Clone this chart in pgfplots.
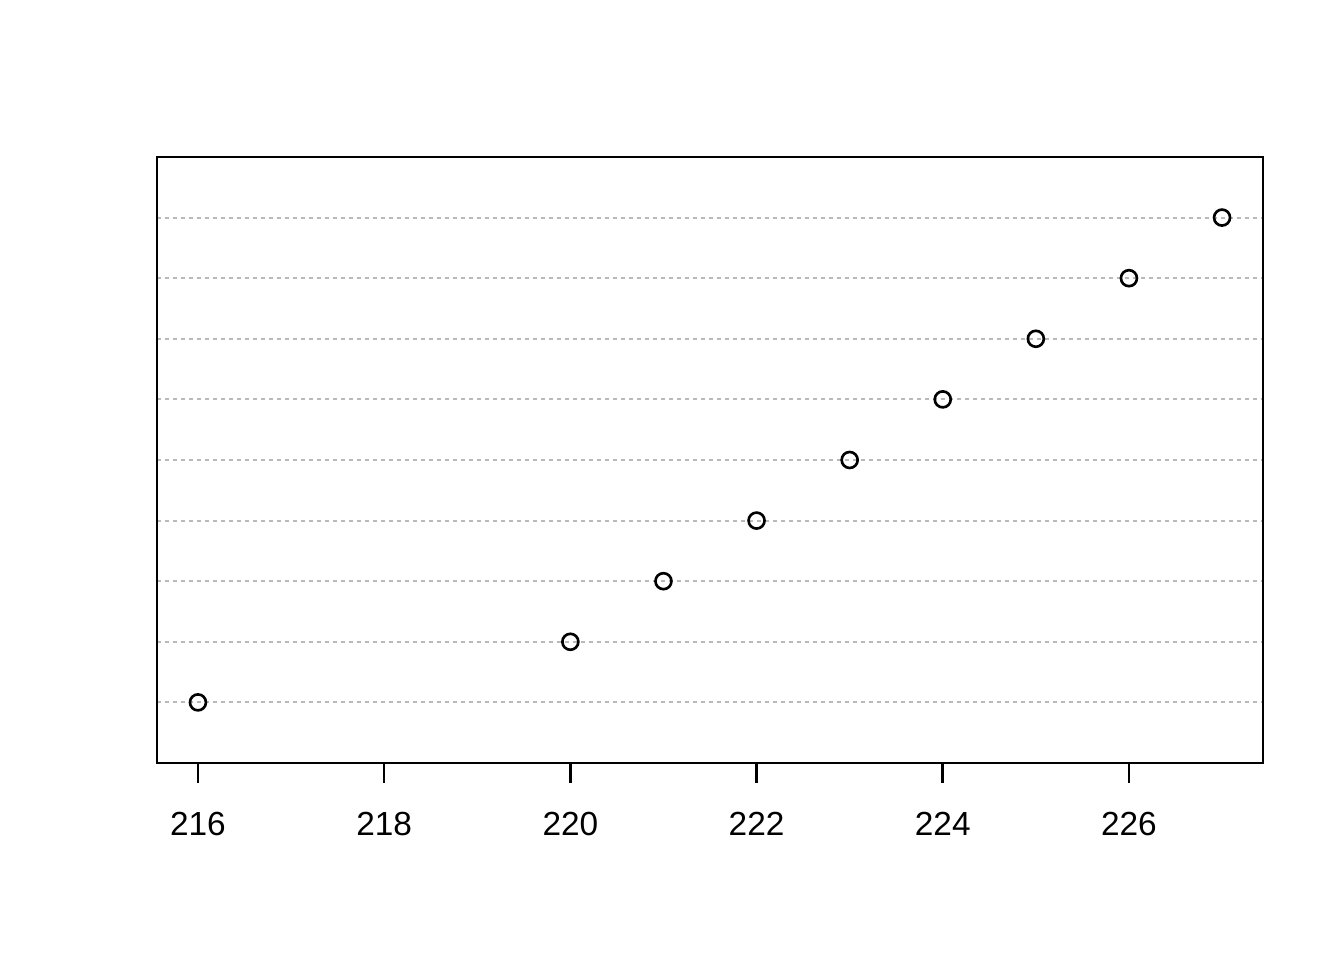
\documentclass[border=0pt]{standalone}
\usepackage{fontspec}
\setmainfont{Liberation Sans}
\usepackage{pgfplots}
\pgfplotsset{compat=1.18}

\begin{document}
\begin{tikzpicture}[x=1mm,y=1mm]
% page frame, 1344x960 at 0.1mm per pixel
\path (0,0) rectangle (134.4,96);
\begin{axis}[
  at={(15.7mm,19.7mm)}, anchor=south west,
  scale only axis, width=110.6mm, height=60.6mm,
  xmin=215.56, xmax=227.44, ymin=0, ymax=10,
  axis line style={line width=0.75pt},
  xtick={216,218,...,226},
  x tick label style={font=\fontsize{9.5}{11}\selectfont, yshift=-1.7mm},
  /pgf/number format/assume math mode=true,
  xtick align=outside, xtick pos=bottom,
  major x tick style={line width=0.75pt, black},
  major tick length=2mm,
  ytick={1,...,9}, yticklabels={},
  major y tick style={draw=none},
  ymajorgrids,
  grid style={gray!55, line width=0.6pt, dash pattern=on 0.4mm off 0.4mm},
]
\addplot[only marks, mark=o, mark size=0.8mm, mark options={line width=0.75pt, black, fill=white}] coordinates {
(216,1) (220,2) (221,3) (222,4) (223,5) (224,6) (225,7) (226,8) (227,9)
};
\end{axis}
\end{tikzpicture}
\end{document}
